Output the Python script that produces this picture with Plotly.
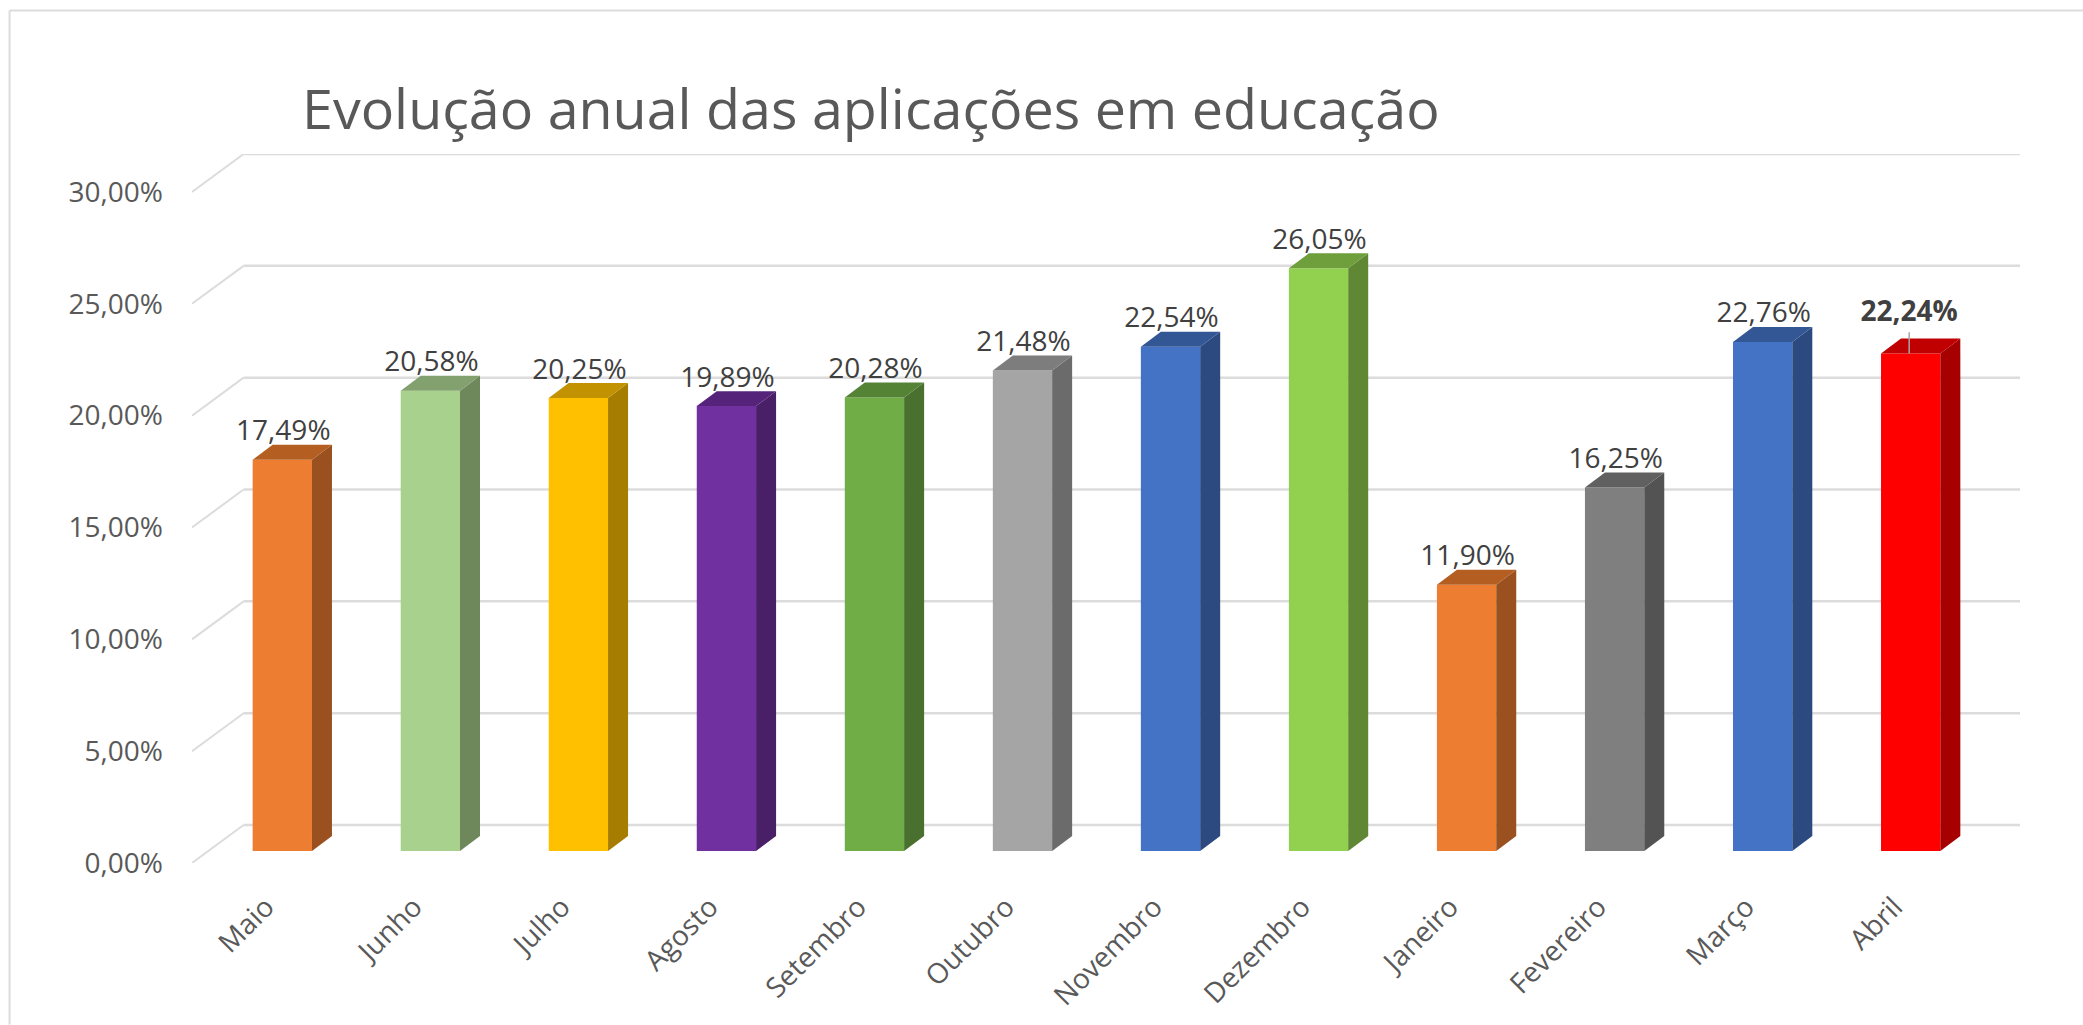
import plotly.graph_objects as go

categories = ["Maio", "Junho", "Julho", "Agosto", "Setembro", "Outubro", "Novembro",
              "Dezembro", "Janeiro", "Fevereiro", "Março", "Abril"]
values = [17.49, 20.58, 20.25, 19.89, 20.28, 21.48, 22.54, 26.05, 11.90, 16.25, 22.76, 22.24]
labels = ["17,49%", "20,58%", "20,25%", "19,89%", "20,28%", "21,48%", "22,54%", "26,05%",
          "11,90%", "16,25%", "22,76%", "22,24%"]
front_colors = ["#ED7D31", "#A9D18E", "#FFC000", "#7030A0", "#70AD47", "#A5A5A5",
                "#4472C4", "#92D050", "#ED7D31", "#7F7F7F", "#4472C4", "#FF0000"]
side_colors = ["#9A511F", "#6E885C", "#A67D00", "#491F68", "#49702E", "#6B6B6B",
               "#2C4A80", "#5F8734", "#9A511F", "#535353", "#2C4A80", "#A60000"]
top_colors = ["#B55E22", "#83A06F", "#C29200", "#55247A", "#558336", "#7D7D7D",
              "#335695", "#6F9E3D", "#B55E22", "#606060", "#335695", "#C00000"]
y_ticks = [0, 5, 10, 15, 20, 25, 30]
y_tick_text = ["0,00%", "5,00%", "10,00%", "15,00%", "20,00%", "25,00%", "30,00%"]

W, H = 2083, 1025
L, R, T, B = 192.4, 2020.0, 154.0, 863.5     # plot area in pixels
PITCH = 148.0
UNIT = (B - T) / 31.698
WALL_DX = 51.6 / PITCH       # depth of the floor in x units
WALL_DY = 38.0 / UNIT        # depth of the floor in y units
BAR_IN_X = 16.3 / PITCH      # bar front offset from the front wall
BAR_IN_Y = 12.0 / UNIT
BAR_DX = 20.0 / PITCH        # bar depth
BAR_DY = 15.0 / UNIT
BAR_W = 59.3 / PITCH
XMIN, XMAX = -0.5, 11.5 + WALL_DX
YMAX = 30 + WALL_DY
GRID = "#DCDCDC"

fig = go.Figure()

xs = list(range(len(categories)))
fig.add_trace(go.Bar(
    x=xs, y=values, base=BAR_IN_Y, width=BAR_W, offset=BAR_IN_X - BAR_W / 2,
    marker=dict(color=front_colors, line=dict(width=0)), showlegend=False,
))

for i, v in enumerate(values):
    x0 = i + BAR_IN_X - BAR_W / 2
    x1 = x0 + BAR_W
    y0 = BAR_IN_Y
    y1 = v + BAR_IN_Y
    fig.add_trace(go.Scatter(
        x=[x1, x1 + BAR_DX, x1 + BAR_DX, x1, x1],
        y=[y0, y0 + BAR_DY, y1 + BAR_DY, y1, y0],
        mode="lines", fill="toself", fillcolor=side_colors[i],
        line=dict(width=0), hoverinfo="skip", showlegend=False,
    ))
    fig.add_trace(go.Scatter(
        x=[x0, x1, x1 + BAR_DX, x0 + BAR_DX, x0],
        y=[y1, y1, y1 + BAR_DY, y1 + BAR_DY, y1],
        mode="lines", fill="toself", fillcolor=top_colors[i],
        line=dict(width=0), hoverinfo="skip", showlegend=False,
    ))

LABEL_GAP = -2.5 / UNIT
label_x = [i + BAR_IN_X + 1.0 / PITCH for i in xs]
label_y = [v + BAR_IN_Y + BAR_DY + LABEL_GAP for v in values]
fig.add_trace(go.Scatter(
    x=label_x[:-1], y=label_y[:-1], mode="text", text=labels[:-1],
    textposition="top center",
    textfont=dict(family="Open Sans", size=28, color="#404040"),
    hoverinfo="skip", showlegend=False, cliponaxis=False,
))
# highlighted last label, lifted above its bar with a leader line
abril_x = label_x[-1] - 2.5 / PITCH
abril_y = label_y[-1] + 13.5 / UNIT
fig.add_trace(go.Scatter(
    x=[abril_x], y=[abril_y], mode="text", text=["<b>" + labels[-1] + "</b>"],
    textposition="top center",
    textfont=dict(family="Open Sans", size=28, color="#404040"),
    hoverinfo="skip", showlegend=False, cliponaxis=False,
))
fig.add_trace(go.Scatter(
    x=[abril_x] * 2,
    y=[values[-1] + BAR_IN_Y, values[-1] + BAR_IN_Y + 21.3 / UNIT],
    mode="lines", line=dict(color="#A6A6A6", width=1.5), hoverinfo="skip", showlegend=False,
))

shapes = []
for t in y_ticks:
    shapes.append(dict(type="line", xref="x", yref="y", layer="below",
                       x0=XMIN + WALL_DX, x1=XMAX, y0=t + WALL_DY, y1=t + WALL_DY,
                       line=dict(color=GRID, width=2.5)))
    shapes.append(dict(type="line", xref="x", yref="y", layer="below",
                       x0=XMIN, x1=XMIN + WALL_DX, y0=t, y1=t + WALL_DY,
                       line=dict(color=GRID, width=2)))
# outer chart frame (top and left edges)
shapes.append(dict(type="line", xref="paper", yref="paper", layer="below",
                   x0=(10 - L) / (R - L), x1=(W - L) / (R - L),
                   y0=(B - 10.5) / (B - T), y1=(B - 10.5) / (B - T),
                   line=dict(color=GRID, width=2)))
shapes.append(dict(type="line", xref="paper", yref="paper", layer="below",
                   x0=(10 - L) / (R - L), x1=(10 - L) / (R - L),
                   y0=(B - 10.5) / (B - T), y1=(B - H) / (B - T),
                   line=dict(color=GRID, width=2)))

fig.update_layout(
    width=W, height=H,
    margin=dict(l=L, r=W - R, t=T, b=H - B, pad=0, autoexpand=False),
    paper_bgcolor="white", plot_bgcolor="rgba(0,0,0,0)",
    showlegend=False, shapes=shapes, barmode="overlay",
    title=dict(text="Evolução anual das aplicações em educação",
               font=dict(family="Open Sans", size=55.6, color="#595959"),
               x=302 / W, xanchor="left", xref="container",
               y=1 - 109.5 / H, yanchor="middle", yref="container"),
    xaxis=dict(range=[XMIN, XMAX], tickmode="array", tickvals=xs, ticktext=categories,
               tickangle=-45, ticks="", showgrid=False, zeroline=False, showline=False,
               ticklabelstandoff=21,
               tickfont=dict(family="Open Sans", size=28, color="#595959")),
    yaxis=dict(range=[0, YMAX], tickmode="array", tickvals=y_ticks, ticktext=y_tick_text,
               ticks="", showgrid=False, zeroline=False, showline=False,
               ticklabelstandoff=28,
               tickfont=dict(family="Open Sans", size=28, color="#595959")),
)

fig.write_html("out.html", config={"displayModeBar": False},
               post_script="document.body.style.margin='0';")
